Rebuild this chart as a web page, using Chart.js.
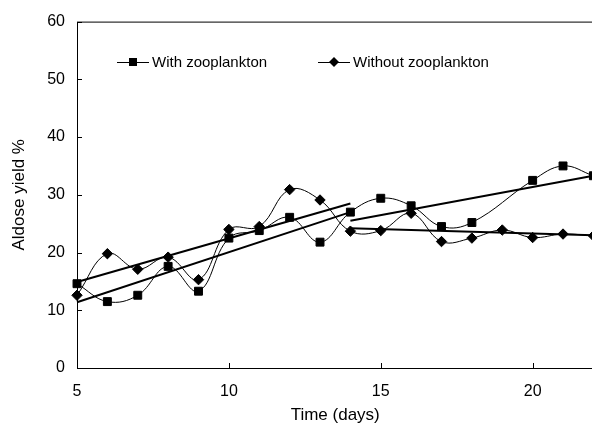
<!DOCTYPE html>
<html lang="en">
<head>
	<meta charset="UTF-8">
	<title>Aldose yield</title>
	<style>
		html, body { margin: 0; padding: 0; background: #fff; overflow: hidden; }
		#wrap { width: 600px; height: 425px; }
	</style>
</head>
<body>
	<div id="wrap">
		<canvas id="line-chart" width="600" height="425"></canvas>
	</div>

	<script src="https://cdn.jsdelivr.net/npm/chart.js@4.4.1/dist/chart.umd.min.js"></script>
	<script>
		// days and yields
		var daysWith = [5, 6, 7, 8, 9, 10, 11, 12, 13, 14, 15, 16, 17, 18, 20, 21, 22];
		var withZoo = [14.6, 11.5, 12.6, 17.6, 13.3, 22.5, 23.8, 26.1, 21.8, 27.0, 29.4, 28.1, 24.5, 25.2, 32.5, 35.0, 33.3];

		var daysWithout = [5, 6, 7, 8, 9, 10, 11, 12, 13, 14, 15, 16, 17, 18, 19, 20, 21, 22];
		var withoutZoo = [12.6, 19.8, 17.1, 19.2, 15.3, 24.0, 24.5, 30.9, 29.1, 23.7, 23.8, 26.8, 21.9, 22.5, 23.9, 22.6, 23.2, 22.9];

		// trend lines (start / end)
		var trendDaysEarly = [5, 14];
		var trendDaysLate = [14, 22];
		var trendWithoutEarly = [14.9, 28.5];
		var trendWithEarly = [11.4, 27.0];
		var trendWithLate = [25.5, 33.3];
		var trendWithoutLate = [24.2, 23.0];

		var xTicks = [5, 10, 15, 20];
		var yTicks = [0, 10, 20, 30, 40, 50, 60];

		var FONT = '"Liberation Sans", Arial, sans-serif';

		function pts(xs, ys) {
			return xs.map(function (x, i) { return { x: x, y: ys[i] }; });
		}

		function trend(xs, ys) {
			return {
				data: pts(xs, ys),
				borderColor: '#000',
				borderWidth: 2,
				pointRadius: 0,
				tension: 0,
				clip: false
			};
		}

		var boxAndTicks = {
			id: 'boxAndTicks',
			afterDraw: function (chart) {
				var ctx = chart.ctx;
				var a = chart.chartArea;
				var xs = chart.scales.x, ys = chart.scales.y;
				ctx.save();
				ctx.strokeStyle = '#000';
				ctx.lineWidth = 1;
				ctx.strokeRect(a.left + 0.5, a.top + 0.5, a.right - a.left, a.bottom - a.top);
				ctx.beginPath();
				xTicks.forEach(function (t) {
					var px = Math.round(xs.getPixelForValue(t)) + 0.5;
					ctx.moveTo(px, a.bottom);
					ctx.lineTo(px, a.bottom - 5);
				});
				yTicks.forEach(function (t) {
					var py = Math.round(ys.getPixelForValue(t)) + 0.5;
					ctx.moveTo(a.left, py);
					ctx.lineTo(a.left + 5, py);
				});
				ctx.stroke();

				// legend inside the plot
				var items = [
					{ x: 117, label: 'With zooplankton', style: 'rect' },
					{ x: 318, label: 'Without zooplankton', style: 'diamond' }
				];
				var y = 62;
				ctx.font = '15px ' + FONT;
				ctx.textBaseline = 'middle';
				ctx.fillStyle = '#000';
				items.forEach(function (it) {
					ctx.beginPath();
					ctx.moveTo(it.x, y + 0.5);
					ctx.lineTo(it.x + 32, y + 0.5);
					ctx.stroke();
					var cx = it.x + 16;
					ctx.beginPath();
					if (it.style === 'rect') {
						ctx.rect(cx - 4, y - 4, 8, 8);
					} else {
						ctx.moveTo(cx, y - 5);
						ctx.lineTo(cx + 5, y);
						ctx.lineTo(cx, y + 5);
						ctx.lineTo(cx - 5, y);
						ctx.closePath();
					}
					ctx.fill();
					ctx.fillText(it.label, it.x + 35, y + 1);
				});
				ctx.restore();
			}
		};

		new Chart(document.getElementById('line-chart'), {
			type: 'line',
			data: {
				datasets: [
					{
						label: 'With zooplankton',
						data: pts(daysWith, withZoo),
						borderColor: '#000',
						backgroundColor: '#000',
						borderWidth: 1,
						pointStyle: 'rect',
						pointRadius: 5.6,
						tension: 0.4,
						clip: false
					},
					{
						label: 'Without zooplankton',
						data: pts(daysWithout, withoutZoo),
						borderColor: '#000',
						backgroundColor: '#000',
						borderWidth: 1,
						pointStyle: 'rectRot',
						pointRadius: 5.2,
						tension: 0.4,
						clip: false
					},
					trend(trendDaysEarly, trendWithoutEarly),
					trend(trendDaysEarly, trendWithEarly),
					trend(trendDaysLate, trendWithLate),
					trend(trendDaysLate, trendWithoutLate)
				]
			},
			options: {
				responsive: false,
				animation: false,
				layout: { padding: { top: 20, right: 5, left: 0, bottom: 0 } },
				plugins: {
					legend: { display: false },
					tooltip: { enabled: false }
				},
				scales: {
					x: {
						type: 'linear',
						min: 5,
						max: 22,
						afterFit: function (s) { s.height = 57; },
						afterBuildTicks: function (s) {
							s.ticks = xTicks.map(function (v) { return { value: v }; });
						},
						grid: { display: false, drawTicks: false },
						border: { display: false },
						ticks: {
							padding: 14,
							color: '#000',
							maxRotation: 0,
							font: { family: FONT, size: 16 }
						},
						title: {
							display: true,
							text: 'Time (days)',
							color: '#000',
							padding: { top: 0, bottom: -1 },
							font: { family: FONT, size: 17 }
						}
					},
					y: {
						min: 0,
						max: 60,
						afterFit: function (s) { s.width = 77; },
						afterBuildTicks: function (s) {
							s.ticks = yTicks.map(function (v) { return { value: v }; });
						},
						grid: { display: false, drawTicks: false },
						border: { display: false },
						ticks: {
							padding: 12,
							color: '#000',
							font: { family: FONT, size: 16 }
						},
						title: {
							display: true,
							text: 'Aldose yield %',
							color: '#000',
							padding: { top: 9, bottom: 0 },
							font: { family: FONT, size: 17 }
						}
					}
				}
			},
			plugins: [boxAndTicks]
		});
	</script>
</body>
</html>
